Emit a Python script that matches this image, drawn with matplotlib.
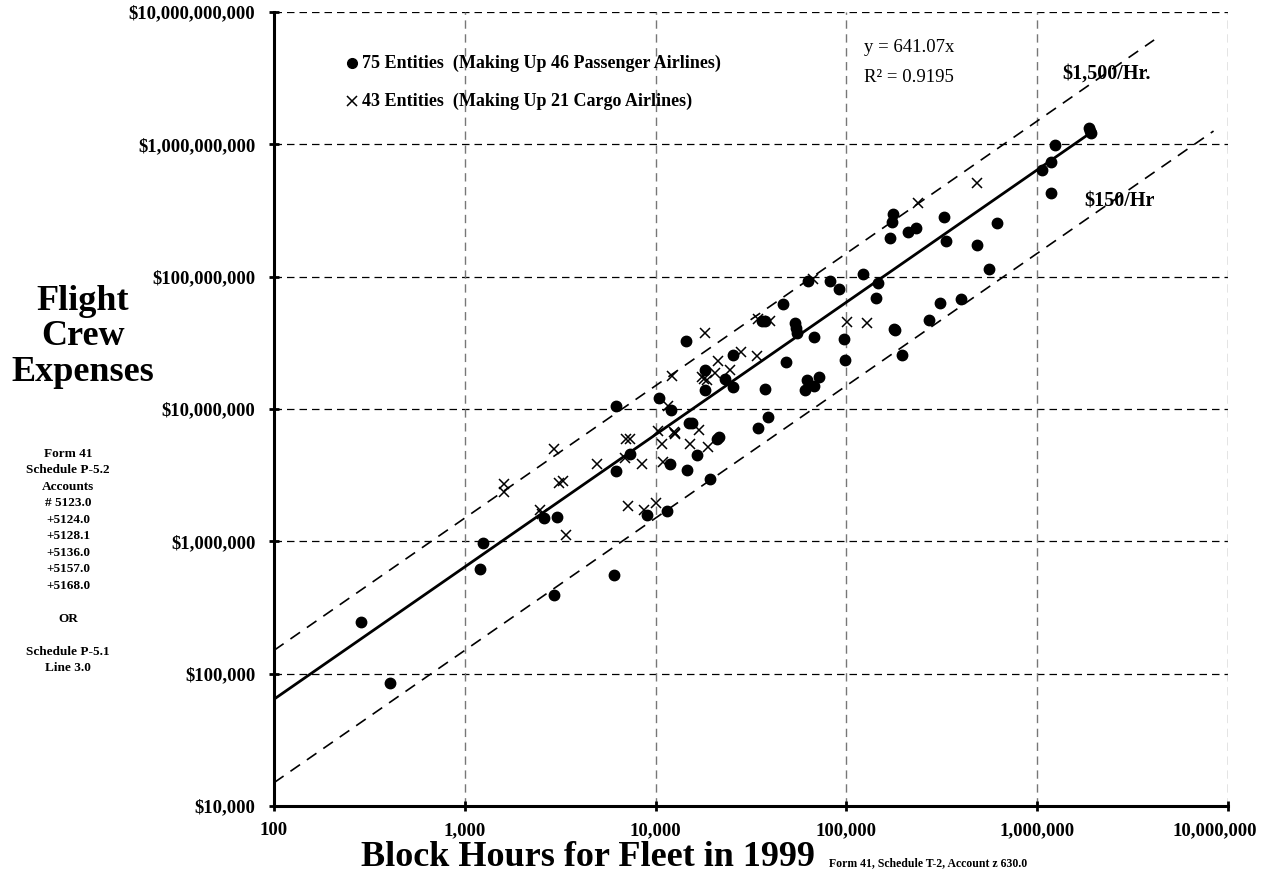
import numpy as np
import matplotlib
matplotlib.use('Agg')
import matplotlib.pyplot as plt
import matplotlib.transforms as mtransforms
from matplotlib.ticker import FuncFormatter, FixedLocator, NullLocator

plt.rcParams['font.family'] = ['Liberation Serif', 'DejaVu Serif']

# passenger airline entities: block hours, flight crew expenses ($)
pax_hours = [285, 406, 1240, 1202, 2951, 6070, 2614, 3048, 8970, 11460,
             19200, 6170, 7300, 11840, 14600, 16500, 21000, 21500, 34400, 14900,
             15600, 6170, 10400, 12100, 14500, 18150, 18150, 23200, 25300, 25400,
             36300, 37300, 37500, 38900, 48100, 61800, 71600, 60600, 67800, 53700,
             55000, 54500, 46600, 63000, 81900, 91400, 122500, 146900, 142900, 67500,
             97300, 98200, 174800, 172700, 169200, 211000, 231700, 325000, 333000, 614000,
             482300, 560000, 309700, 397400, 272300, 177000, 180000, 196500, 1870000, 1910000,
             1900000, 1237000, 1186000, 1056000, 1175000]
pax_cost = [2.46e5, 8.5e4, 9.68e5, 6.15e5, 3.95e5, 5.6e5, 1.50e6, 1.53e6, 1.57e6, 1.70e6,
            2.96e6, 3.42e6, 4.6e6, 3.85e6, 3.47e6, 4.48e6, 5.9e6, 6.1e6, 7.16e6, 7.8e6,
            7.85e6, 1.05e7, 1.22e7, 9.85e6, 3.29e7, 1.98e7, 1.39e7, 1.69e7, 2.55e7, 1.46e7,
            4.66e7, 4.61e7, 1.41e7, 8.67e6, 2.26e7, 1.66e7, 1.74e7, 1.39e7, 1.50e7, 4.5e7,
            3.75e7, 4.1e7, 6.2e7, 9.3e7, 9.35e7, 8.05e7, 1.05e8, 9.02e7, 6.88e7, 3.47e7,
            3.37e7, 2.35e7, 2.98e8, 2.61e8, 1.95e8, 2.17e8, 2.35e8, 2.82e8, 1.86e8, 2.54e8,
            1.74e8, 1.14e8, 6.31e7, 6.76e7, 4.7e7, 4.0e7, 3.95e7, 2.56e7, 1.32e9, 1.22e9,
            1.27e9, 9.91e8, 7.41e8, 6.41e8, 4.32e8]

# cargo airline entities
cargo_hours = [3400, 18100, 12200, 27900, 33800, 34300, 39650, 21200, 17600, 18500,
               20400, 24500, 11600, 10300, 12500, 12700, 16900, 15100, 18800, 10800,
               10900, 7000, 7300, 6900, 8500, 4940, 2930, 3110, 3260, 1600,
               1600, 2490, 7160, 8650, 10000, 101000, 128600, 67000, 238300, 482300,
               2540, 17900, 12600]
cargo_cost = [1.11e6, 3.78e7, 1.78e7, 2.69e7, 2.52e7, 4.77e7, 4.66e7, 2.31e7, 1.74e7, 1.66e7,
              1.87e7, 1.98e7, 1.05e7, 6.83e6, 6.7e6, 6.5e6, 6.95e6, 5.45e6, 5.2e6, 5.45e6,
              4.0e6, 5.9e6, 5.9e6, 4.25e6, 3.83e6, 3.83e6, 4.99e6, 2.75e6, 2.86e6, 2.72e6,
              2.35e6, 1.73e6, 1.85e6, 1.73e6, 1.96e6, 4.58e7, 4.45e7, 9.62e7, 3.59e8, 5.14e8,
              1.62e6, 1.70e7, 6.6e6]

slope_fit = 641.07
fit_hours = [100, 1900000]
rate_high = 1500
high_hours = [100, 4100000]
rate_low = 150
low_hours = [100, 8400000]

x_ticks = [1e2, 1e3, 1e4, 1e5, 1e6, 1e7]
y_ticks = [1e4, 1e5, 1e6, 1e7, 1e8, 1e9, 1e10]

fig = plt.figure(figsize=(12.86, 8.94), dpi=100)
ax = fig.add_axes([274 / 1286, 1 - 806 / 894, 954 / 1286, 794 / 894])
ax.set_xscale('log')
ax.set_yscale('log')
ax.set_xlim(1e2, 1e7)
ax.set_ylim(1e4, 1e10)

for y in y_ticks:
    ax.axhline(y, color='black', lw=0.9, ls=(0, (6, 4)), zorder=1)
for x in x_ticks[1:]:
    ax.axvline(x, color='#777777', lw=1.0, ls=(0, (6, 4)), zorder=1)

fh = np.array(fit_hours, dtype=float)
ax.plot(fh, slope_fit * fh, color='black', lw=2.0, zorder=3)
hh = np.array(high_hours, dtype=float)
ax.plot(hh, rate_high * hh, color='black', lw=1.2, ls=(0, (7, 5)), zorder=3)
lh = np.array(low_hours, dtype=float)
ax.plot(lh, rate_low * lh, color='black', lw=1.2, ls=(0, (7, 5)), zorder=3)

ax.plot(pax_hours, pax_cost, 'o', color='black', ms=7.5, zorder=4)
ax.plot(cargo_hours, cargo_cost, 'x', color='black', ms=7, mew=1.1, zorder=4)

for s in ['top', 'right']:
    ax.spines[s].set_visible(False)
for s in ['left', 'bottom']:
    ax.spines[s].set_linewidth(2.2)

ax.xaxis.set_major_locator(FixedLocator(x_ticks))
ax.yaxis.set_major_locator(FixedLocator(y_ticks))
ax.xaxis.set_minor_locator(NullLocator())
ax.yaxis.set_minor_locator(NullLocator())
ax.xaxis.set_major_formatter(FuncFormatter(lambda v, p: f"{v:,.0f}"))
ax.yaxis.set_major_formatter(FuncFormatter(lambda v, p: f"${v:,.0f}"))
ax.tick_params(axis='both', direction='inout', length=7, width=2, labelsize=13.5)
ax.tick_params(axis='y', pad=10)
ax.tick_params(axis='x', pad=8)
for lab in ax.get_xticklabels() + ax.get_yticklabels():
    lab.set_fontweight('bold')
last = ax.get_xticklabels()[-1]
last.set_transform(last.get_transform() + mtransforms.ScaledTranslation(-13 / 100, 0, fig.dpi_scale_trans))

# legend-like annotations
ax.plot([352 / 1286], [1 - 63 / 894], 'o', color='black', ms=7, transform=fig.transFigure, clip_on=False)
ax.plot([352 / 1286], [1 - 101 / 894], 'x', color='black', ms=6.5, mew=1.1, transform=fig.transFigure, clip_on=False)
fig.text(362 / 1286, 1 - 63 / 894, '75 Entities  (Making Up 46 Passenger Airlines)',
         fontsize=13, fontweight='bold', va='center', ha='left')
fig.text(362 / 1286, 1 - 101 / 894, '43 Entities  (Making Up 21 Cargo Airlines)',
         fontsize=13, fontweight='bold', va='center', ha='left')

fig.text(864 / 1286, 1 - 48 / 894, 'y = 641.07x', fontsize=13.5, va='center', ha='left')
fig.text(864 / 1286, 1 - 77 / 894, 'R² = 0.9195', fontsize=13.5, va='center', ha='left')
fig.text(1062 / 1286, 1 - 74 / 894, '$1,500/Hr.', fontsize=14.5, fontweight='bold', va='center', ha='left')
fig.text(1084 / 1286, 1 - 202 / 894, '$150/Hr', fontsize=14.5, fontweight='bold', va='center', ha='left')

# axis titles
fig.text(83 / 1286, 1 - 337 / 894, 'Flight\nCrew\nExpenses', fontsize=26, fontweight='bold',
         ha='center', va='center', multialignment='center', linespacing=1.1)
fig.text(68 / 1286, 1 - 561 / 894,
         'Form 41\nSchedule P-5.2\nAccounts\n# 5123.0\n+5124.0\n+5128.1\n+5136.0\n+5157.0\n+5168.0\n\nOR\n\nSchedule P-5.1\nLine 3.0',
         fontsize=9.5, fontweight='bold', ha='center', va='center', multialignment='center', linespacing=1.5)
fig.text(588 / 1286, 1 - 866 / 894, 'Block Hours for Fleet in 1999', fontsize=26, fontweight='bold',
         ha='center', va='baseline')
fig.text(829 / 1286, 1 - 866 / 894, 'Form 41, Schedule T-2, Account z 630.0', fontsize=8.5, fontweight='bold',
         ha='left', va='baseline')

fig.savefig('out.png', dpi=100)
